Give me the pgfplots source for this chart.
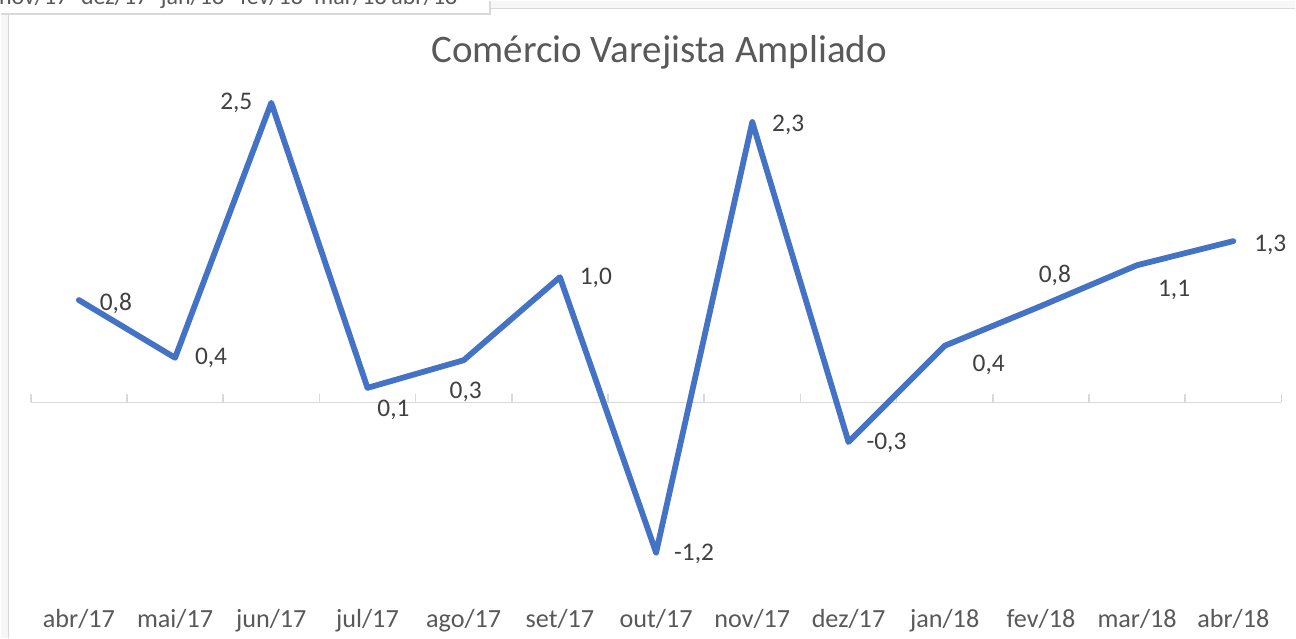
\documentclass[border=0pt]{standalone}
\usepackage{fontspec}
\setmainfont{Carlito}
\usepackage{pgfplots}
\usepackage{pgfplotstable}
\pgfplotsset{compat=1.18}
\definecolor{serie}{HTML}{4472C4}
\definecolor{eixo}{HTML}{D9D9D9}
\definecolor{texto}{HTML}{595959}
\definecolor{rotulo}{HTML}{404040}

% valores; lab = rotulo exibido, dx/dy = deslocamento do rotulo (pt)
\pgfplotstableread{
x y lab dx dy
0 0.85 0,8 18.5 -1.5
1 0.37 0,4 18 0
2 2.49 2,5 -17.5 0
3 0.12 0,1 13 -11
4 0.35 0,3 1 -16
5 1.04 1,0 18 -0.5
6 -1.25 -1,2 19 -0.5
7 2.33 2,3 18 -1.5
8 -0.33 -0,3 19 -0.5
9 0.47 0,4 22 -9.5
10 0.80 0,8 7 15.5
11 1.14 1,1 18.5 -12.5
12 1.34 1,3 18.5 -2
}\dados

\begin{document}
\begin{tikzpicture}
% moldura (coordenadas em pixels da imagem)
\begin{scope}[x=0.5pt,y=-0.5pt,yshift=319pt]
  \fill[gray!6] (0,0) rectangle (1296,638);
  \fill[white] (8,8) rectangle (1296,638);
  \draw[eixo, line width=0.6pt] (8,638) -- (8,8) -- (1296,8);
  \fill[white] (0,0) rectangle (490,13);
  \draw[eixo, line width=0.8pt] (0,13) -- (490,13) -- (490,0);
  \clip (0,0) rectangle (489,12);
  \begin{scope}[every node/.style={anchor=base, text=texto, font=\fontsize{12}{14}\selectfont}]
    \node at (33,4) {nov/17};
    \node at (114,4) {dez/17};
    \node at (192,4) {jan/18};
    \node at (271,4) {fev/18};
    \node at (350,4) {mar/18};
    \node at (424,4) {abr/18};
  \end{scope}
\end{scope}

\begin{axis}[
    at={(15pt,21.7pt)}, anchor=south west, scale only axis,
    width=626pt, height=258.9pt,
    xmin=-0.5, xmax=12.5, ymin=-1.6, ymax=2.7,
    axis y line=none, ytick=\empty,
    axis x line=middle,
    x axis line style={eixo, line width=0.75pt, -},
    xtick={0,...,12},
    xticklabels={abr/17,mai/17,jun/17,jul/17,ago/17,set/17,out/17,nov/17,dez/17,jan/18,fev/18,mar/18,abr/18},
    major tick length=0pt,
    minor xtick={-0.5,0.5,...,12.5},
    minor tick length=4pt,
    xtick align=inside,
    every minor tick/.append style={eixo, line width=0.75pt},
    xticklabel style={font=\fontsize{13.1}{15}\selectfont, text=texto, anchor=base, yshift=-112.5pt},
    clip=false,
]
\addplot[serie, line width=2.9pt, line join=round, line cap=round, mark=none,
    nodes near coords={\pgfplotspointmeta}, point meta=explicit symbolic,
    visualization depends on={\thisrow{dx}\as\labdx},
    visualization depends on={\thisrow{dy}\as\labdy},
    every node near coord/.append style={anchor=center, xshift=\labdx pt, yshift=\labdy pt,
        text=rotulo, font=\fontsize{12.7}{14}\selectfont}]
    table[x=x, y=y, meta=lab]{\dados};
\end{axis}

\node[text=texto, font=\fontsize{19.5}{22}\selectfont] at (329.5pt,293pt) {Comércio Varejista Ampliado};
\end{tikzpicture}
\end{document}
